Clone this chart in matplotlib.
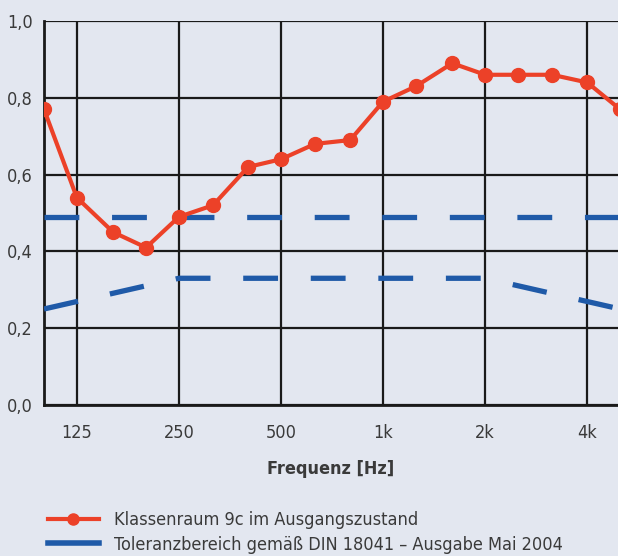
import matplotlib
matplotlib.use("Agg")
import matplotlib.pyplot as plt
from matplotlib.lines import Line2D

freqs = [100, 125, 160, 200, 250, 315, 400, 500, 630, 800, 1000, 1250, 1600, 2000, 2500, 3150, 4000, 5000]
alpha_room = [0.77, 0.54, 0.45, 0.41, 0.49, 0.52, 0.62, 0.64, 0.68, 0.69, 0.79, 0.83, 0.89, 0.86, 0.86, 0.86, 0.84, 0.77]

tol_freqs = [100, 250, 2000, 5000]
tol_upper = [0.49, 0.49, 0.49, 0.49]
tol_lower = [0.25, 0.33, 0.33, 0.25]

xticks = [125, 250, 500, 1000, 2000, 4000]
xtick_labels = ["125", "250", "500", "1k", "2k", "4k"]
yticks = [0.0, 0.2, 0.4, 0.6, 0.8, 1.0]
ytick_labels = ["0,0", "0,2", "0,4", "0,6", "0,8", "1,0"]

legend_labels = ["Klassenraum 9c im Ausgangszustand",
                 "Toleranzbereich gemäß DIN 18041 – Ausgabe Mai 2004"]

bg = "#e3e7f0"
red = "#ec4128"
blue = "#1f5aa8"
txt = "#3a3a3a"
plt.rcParams["font.family"] = ["DejaVu Sans"]
plt.rcParams["font.stretch"] = "condensed"

fig = plt.figure(figsize=(6.18, 5.56), dpi=100, facecolor=bg)
ax = fig.add_axes([0.0712, 0.2716, 0.9288, 0.6906], facecolor=bg)
ax.set_xscale("log")
ax.set_xlim(100, 4930)
ax.set_ylim(0, 1.0)

ax.plot(tol_freqs, tol_upper, color=blue, lw=3.8, dashes=(6.6, 6.2), solid_capstyle="butt", zorder=3)
ax.plot(tol_freqs, tol_lower, color=blue, lw=3.8, dashes=(6.6, 6.2), solid_capstyle="butt", zorder=3)
ax.plot(freqs, alpha_room, color=red, lw=3, marker="o", ms=10, clip_on=True, zorder=4)

ax.set_xticks(xticks)
ax.set_xticklabels(xtick_labels)
ax.minorticks_off()
ax.set_yticks(yticks)
ax.set_yticklabels(ytick_labels)
ax.tick_params(length=0, labelsize=13, colors=txt, pad=14)
ax.tick_params(axis="y", pad=8)
ax.grid(True, color="#1a1a1a", lw=1.6)
ax.set_axisbelow(True)
for s in ["top", "right"]:
    ax.spines[s].set_visible(False)
for s in ["left", "bottom"]:
    ax.spines[s].set_color("#1a1a1a")
    ax.spines[s].set_linewidth(2)

ax.set_xlabel("Frequenz [Hz]", fontsize=13, fontweight="bold", color=txt, labelpad=13)

handles = [Line2D([], [], color=red, lw=3, marker="o", ms=8),
           Line2D([], [], color=blue, lw=4)]
fig.legend(handles, legend_labels, loc="lower left", bbox_to_anchor=(0.078, 0.004),
           frameon=False, fontsize=13, labelcolor=txt, handlelength=2.8,
           handletextpad=0.83, labelspacing=0.38, borderpad=0, borderaxespad=0)

fig.savefig("out.png", dpi=100, facecolor=bg)
